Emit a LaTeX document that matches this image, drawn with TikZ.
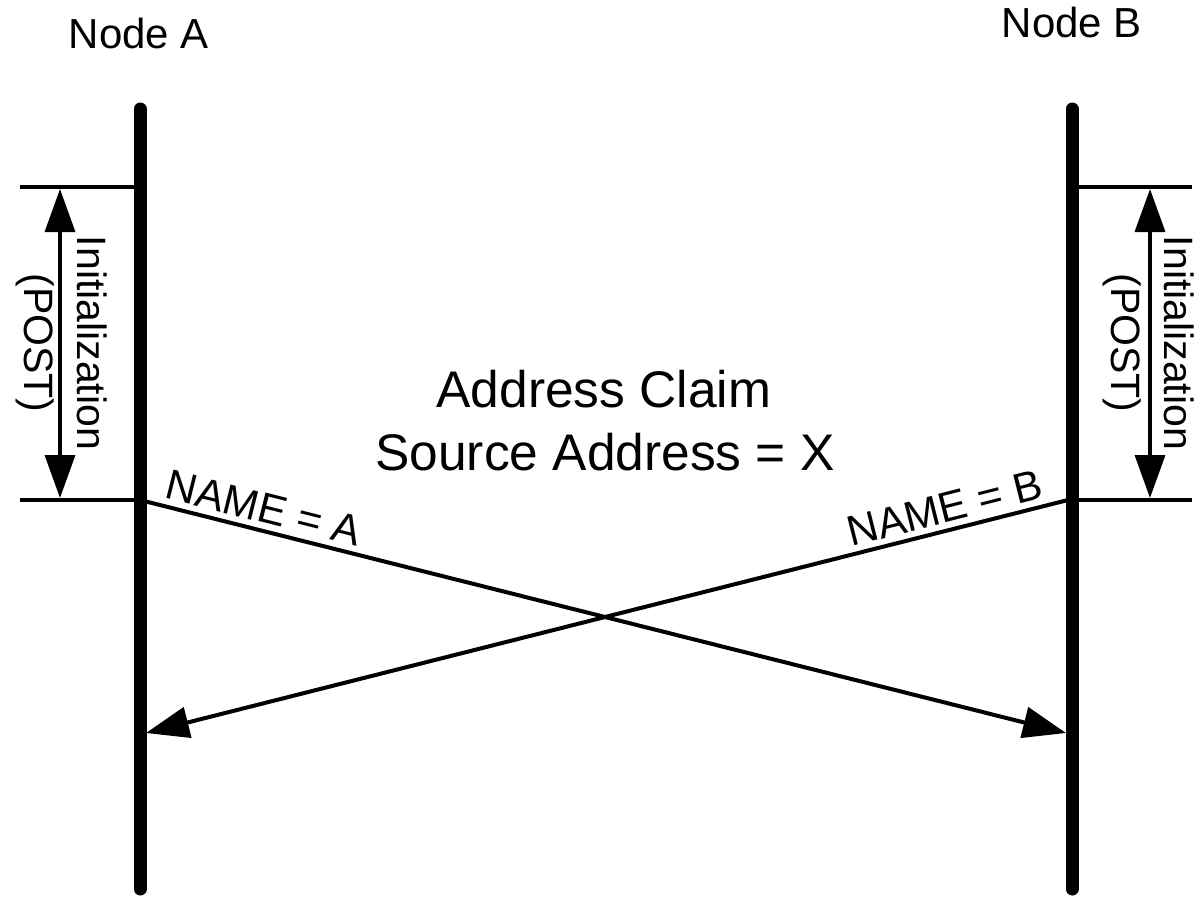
\documentclass[tikz,border=0pt]{standalone}
\usepackage{fontspec}
\setmainfont{Liberation Sans}
\usetikzlibrary{arrows.meta}
\begin{document}
\begin{tikzpicture}[x=1pt,y=-1pt,
  life/.style={line width=13pt, line cap=round},
  tick/.style={line width=3.5pt},
  msg/.style={line width=4pt,-{Triangle[length=43pt,width=31pt]}},
  dur/.style={line width=3.5pt,{Triangle[length=43pt,width=30pt]}-{Triangle[length=43pt,width=30pt]}},
  title/.style={font=\fontsize{42}{50}\selectfont, anchor=base, inner sep=0pt},
  center/.style={font=\fontsize{51.5}{60}\selectfont, anchor=base, inner sep=0pt},
  durlabel/.style={font=\fontsize{41}{53}\selectfont, align=center, rotate=-90, inner sep=0pt},
  msglabel/.style={font=\fontsize{42.5}{50}\selectfont, sloped, above, inner sep=6pt}
]
\useasboundingbox (0,0) rectangle (1195,897);

% lifelines
\coordinate (Atop) at (140,109);
\coordinate (Abot) at (140,889);
\coordinate (Btop) at (1072,109);
\coordinate (Bbot) at (1072,889);
\draw[life] (Atop) -- (Abot);
\draw[life] (Btop) -- (Bbot);

% titles
\node[title] (nA) at (139,48) {Node A};
\node[title] (nB) at (1072,37) {Node B};

% ticks left
\coordinate (AtL1) at (20,187);
\coordinate (AtR1) at (140,187);
\coordinate (AtL2) at (20,500);
\coordinate (AtR2) at (140,500);
\draw[tick] (AtL1) -- (AtR1);
\draw[tick] (AtL2) -- (AtR2);
% ticks right
\coordinate (BtL1) at (1072,187);
\coordinate (BtR1) at (1192,187);
\coordinate (BtL2) at (1072,500);
\coordinate (BtR2) at (1192,500);
\draw[tick] (BtL1) -- (BtR1);
\draw[tick] (BtL2) -- (BtR2);

% duration labels and arrows
\node[durlabel] (iA) at (62,343) {Initialization\\(POST)};
\node[durlabel] (iB) at (1149,343) {Initialization\\(POST)};
\coordinate (dA1) at (60,189);
\coordinate (dA2) at (60,498);
\coordinate (dB1) at (1150,189);
\coordinate (dB2) at (1150,498);
\draw[dur] (dA1) -- (dA2);
\draw[dur] (dB1) -- (dB2);

% center text
\node[center] (c1) at (604,407) {Address Claim};
\node[center] (c2) at (605,470) {Source Address = X};

% messages
\coordinate (mA1) at (140,500);
\coordinate (mA2) at (1066,733);
\coordinate (mB1) at (1068,500);
\coordinate (mB2) at (146,733);
\draw[msg] (mA1) -- node[msglabel, pos=0.128] (lA) {NAME = A} (mA2);
\draw[msg] (mB1) -- node[msglabel, pos=0.128] (lB) {NAME = B} (mB2);
\end{tikzpicture}
\end{document}
